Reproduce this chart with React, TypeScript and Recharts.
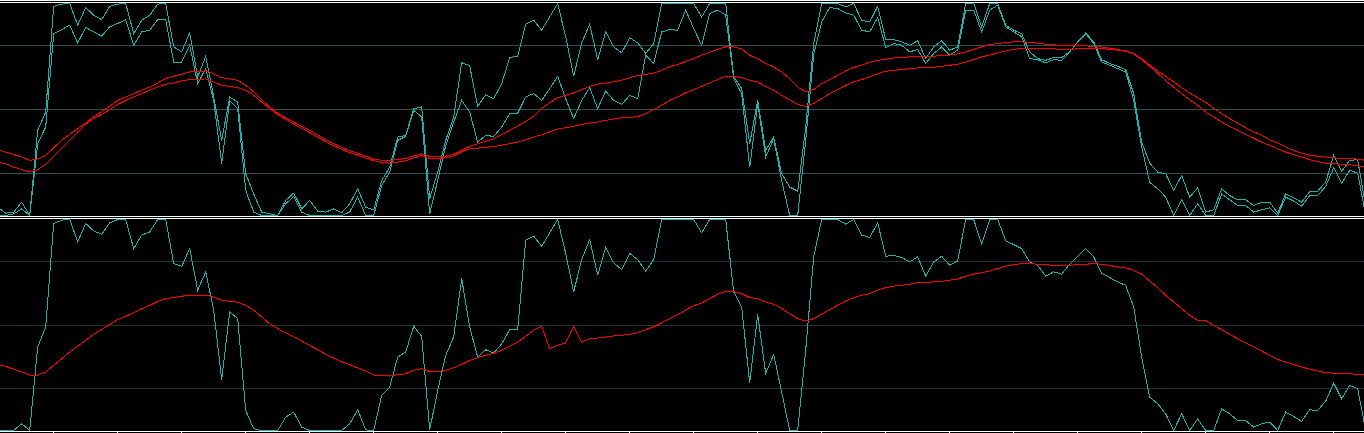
import React from "react";
import { Line, LineChart, ReferenceLine, XAxis, YAxis } from "recharts";

// bar index of the first value in every series below (one bar = 8px)
const firstBar = -1;
const tickBars = [6, 14, 22, 30, 38, 46, 54, 62, 70, 78, 86, 94, 102, 110, 118, 126, 134, 142, 150, 158, 166];
const levels = [20, 50, 80];

// top panel, the two cyan lines
const upperK = [
  3.9, 1.1, 1.6, 6.3, 0, 40.2, 48.8, 98.7, 99.7, 100,
  89.8, 98.1, 94.5, 92.4, 98.7, 99.7, 100, 85.8, 92.1, 94.5,
  99.7, 100, 79.5, 77.2, 86.1, 65.4, 75.1, 55.9, 35.4, 55.9,
  53.5, 19.7, 10.2, 1.6, 0.8, 0, 7.1, 10.6, 3.1, 7.1,
  2, 1.6, 3.1, 1.3, 5.5, 12.6, 3.9, 2.7, 16.5, 22.8,
  37, 37.8, 50.4, 51.2, 7.9, 20.5, 35.4, 46.5, 72.1, 70.6,
  51.5, 57, 55.1, 62.2, 74.5, 75.1, 90.2, 92.1, 87.4, 93.7,
  100, 84.3, 65.7, 81.4, 90.2, 73.5, 86.6, 79.5, 76.7, 83.9,
  81.4, 76.4, 81.1, 100, 100, 100, 100, 100, 93.7, 100,
  100, 100, 65.7, 59.8, 33.9, 54.3, 30.7, 37, 19.7, 13.4,
  11.5, 41.7, 81.1, 100, 100, 100, 98.4, 100, 92.1, 91.3,
  98.7, 83, 83, 81.9, 80.3, 82.4, 74, 79.5, 82.4, 78,
  79.5, 100, 100, 89, 100, 100, 89.8, 87.4, 85.8, 77.2,
  74, 73.2, 74.5, 74.5, 77.2, 81.9, 86.1, 81.9, 73.5, 71.7,
  70.4, 68.8, 57.5, 34.6, 24.7, 20.5, 19.7, 11.8, 18.9, 8.7,
  13.1, 1.6, 2.7, 12.6, 9.4, 7.4, 7.4, 4.7, 6.3, 6.3,
  1.1, 10.2, 8.3, 6.3, 11.3, 11.5, 15.7, 28.3, 20.9, 26,
  26.3, 3.9,
];

const lowerK = [
  0, 0, 0.8, 3.1, 0, 34, 41.7, 85.8, 87.7, 89.8,
  81.4, 88.7, 86.6, 84.6, 89, 90.6, 92.4, 80.3, 86.6, 87.4,
  92.4, 92.4, 72.4, 72.4, 80.3, 62.2, 69.3, 54.3, 24.4, 54.3,
  50.4, 11.8, 1.6, 0, 0, 0, 5.5, 9, 1.6, 0,
  0, 0, 0, 0, 1.6, 8.7, 0, 0, 14.2, 20.5,
  35.4, 37.3, 49.6, 46.5, 0.8, 16.5, 33, 44.1, 54.3, 48.8,
  34.6, 37.8, 37.3, 41.7, 48, 48.3, 55.9, 57.5, 54.3, 59.8,
  65.7, 55.1, 45.7, 54.3, 60.3, 50.4, 58.7, 54.3, 52.4, 56.7,
  55.1, 75.6, 71.7, 86.6, 87.7, 87.4, 96.9, 88.2, 80.3, 95.3,
  96.9, 94.5, 64.6, 57.5, 22.8, 52.8, 27.6, 36.2, 16.5, 0,
  0, 35.4, 76, 91.3, 98.1, 97.6, 95.6, 94.5, 87.4, 86.6,
  93.4, 79.2, 81.1, 80.3, 77.2, 78.3, 71.7, 76.4, 79.5, 75.6,
  78, 96.9, 96.9, 86.6, 96.9, 99.2, 89, 86.6, 84.3, 74,
  73.5, 72, 73.5, 73.2, 77.2, 81.9, 85.8, 81.1, 72.4, 70.9,
  69.3, 67.7, 54.3, 32.3, 15.7, 12.6, 8.7, 0, 7.4, 0,
  5.5, 0, 0, 10.2, 7.4, 4.7, 4.7, 1.6, 2.7, 3.6,
  0, 8.7, 6.8, 4.4, 9.4, 9.4, 13.7, 22.5, 15.3, 21.3,
  20, 0,
];

// top panel, the two red lines
const upperSignal = [
  31, 29.9, 28.8, 27.6, 26, 26.6, 28.3, 32, 35.4, 38.3,
  40.9, 43.6, 46.5, 49.1, 51.5, 54.3, 55.9, 57.5, 59.1, 60.6,
  62.5, 64.6, 65.7, 66.6, 67.7, 68, 68.2, 66.9, 65, 64.4,
  63.8, 61.4, 58.3, 54.6, 51.2, 48.3, 46.1, 44.1, 42, 40.2,
  38, 35.7, 33.9, 32.1, 30.6, 29.3, 28, 26.6, 26.1, 26,
  26.3, 26.9, 28.2, 29.1, 28, 27.7, 28, 28.8, 30.7, 32.6,
  33.9, 35, 36.2, 38.1, 40.2, 42.2, 44.4, 46.8, 50.5, 53.2,
  55.6, 56.7, 57.8, 59.4, 60.9, 61.9, 62.5, 63.1, 63.8, 65,
  66, 66.6, 67.1, 68.5, 70.1, 71.3, 72.6, 74, 75.6, 77,
  78.3, 79.5, 79.5, 78.6, 75.6, 74, 71.7, 70.1, 67.7, 64.6,
  60.6, 58.3, 59.4, 62.2, 64.1, 66.1, 68.2, 69.8, 70.9, 72.3,
  73.2, 73.7, 74.3, 74.6, 74.8, 74.8, 74.8, 75.1, 75.6, 75.7,
  76.2, 77.2, 78.3, 79.5, 80.6, 81.1, 81.6, 81.9, 81.9, 81.6,
  81.3, 80.8, 80.5, 80.2, 80, 80, 80, 79.8, 79.5, 78.9,
  78.3, 77.6, 76.4, 74, 70.9, 68.2, 65.7, 63, 60.3, 57.8,
  55.6, 53.4, 50.6, 48, 45.7, 43.6, 41.4, 39.5, 37.8, 35.7,
  34.2, 32.3, 30.7, 29.4, 28.5, 27.9, 27.6, 27.2, 26.9, 26.8,
  26.6, 26,
];

const lowerSignal = [
  25.2, 24.4, 22.8, 21.7, 20.5, 21.6, 24.1, 27.9, 31.8, 35.4,
  39.4, 43, 45.7, 47.7, 49.9, 52.4, 54.3, 55.9, 57.5, 59.1,
  60.6, 61.9, 62.5, 63.5, 64.1, 64.3, 64.4, 63, 61.4, 60.9,
  60.3, 59.1, 56.7, 53.5, 50.4, 47.6, 45.4, 43.1, 41.1, 39.1,
  36.9, 34.8, 32.9, 31.2, 29.6, 28.5, 27.2, 25.8, 25, 24.7,
  25.2, 25.8, 27.2, 28.3, 26.9, 26.8, 27.2, 27.9, 29.9, 31.5,
  31.8, 32.1, 32.6, 33.1, 33.9, 34.6, 35.7, 37, 38.1, 39.4,
  40.8, 41.4, 42, 43, 43.6, 44.1, 44.9, 45.5, 46.1, 46.3,
  46.6, 48, 49.9, 52, 54.3, 55.9, 57.8, 59.4, 60.9, 62.5,
  64.1, 65.7, 65.7, 65, 63.8, 63, 60.9, 59.1, 56.7, 54.6,
  52.4, 51.5, 52.8, 55.1, 57.5, 59.4, 61.4, 63, 64.1, 65.4,
  66.9, 68, 68.5, 68.8, 69.3, 69.6, 69.8, 69.9, 70.4, 70.9,
  71.3, 72.4, 73.5, 74.8, 75.7, 76.7, 77.6, 78.4, 78.7, 78.7,
  78.7, 78.7, 78.6, 78.4, 78.4, 78.6, 78.7, 78.7, 78.7, 78.4,
  78, 77.5, 76.2, 73.5, 70.4, 67.2, 63.5, 60.6, 57.5, 54.6,
  52, 48.8, 46.5, 44.1, 42, 40.2, 38.3, 36.5, 34.6, 33.1,
  31.5, 29.9, 28.7, 27.6, 26.3, 25.4, 24.7, 24.4, 24.1, 23.9,
  23.6, 22.8,
];

// bottom panel
const osc = [
  0, 0, 0, 3.2, 0, 39.6, 49.1, 98.1, 99.7, 100,
  89.4, 98.1, 94.6, 93, 98.4, 100, 100, 86.2, 92.6, 94.1,
  100, 100, 79.1, 77.8, 86.2, 66.5, 75.2, 57, 24.1, 56.2,
  53, 9.5, 0.8, 0, 0, 0, 6.3, 8.7, 1.6, 0,
  0, 0, 0, 0, 3.2, 9.8, 0.3, 0, 16.6, 20.6,
  34.8, 37.2, 49.4, 44.6, 0.3, 19, 35.6, 44.3, 72, 49,
  34.8, 38.3, 36.7, 41.1, 47.8, 47.8, 90.2, 92.1, 87.3, 93.7,
  100, 83.9, 65.7, 81, 90.5, 73.6, 86.7, 79.4, 76.3, 83.9,
  81, 75.5, 81, 100, 100, 100, 100, 100, 93.7, 100,
  100, 100, 65.7, 58.5, 22.5, 55, 27, 36, 18.2, 0,
  0, 38, 82.3, 100, 100, 100, 97.8, 100, 92.6, 91.5,
  98.4, 82.6, 83, 82, 79.9, 82.3, 73.1, 79.9, 82.6, 78.3,
  80.4, 100, 100, 88.3, 100, 100, 89.9, 88.1, 86.2, 79.9,
  78.3, 73.1, 75.2, 74.1, 78.8, 82.6, 86.2, 82.3, 74.4, 72.5,
  70.4, 68.8, 58.5, 34.8, 15.8, 12.7, 7.9, 0, 7.9, 0,
  5.5, 0, 0, 10.3, 7.9, 4.7, 4.7, 1.6, 3.2, 4,
  0, 8.7, 6.6, 4.4, 9.8, 9.5, 13.9, 22.5, 15, 21.4,
  19.8, 0,
];

const signal = [
  31.3, 30.4, 29.1, 27.8, 26.3, 26.3, 27.7, 30.9, 34, 37.2,
  39.9, 42.7, 45.6, 47.8, 50.2, 52.5, 54.1, 55.9, 57.6, 59.3,
  61.2, 62.5, 63, 63.6, 64.2, 64.2, 64.2, 63.3, 61.7, 61.2,
  60.8, 59.3, 57, 53.8, 50.6, 48.3, 46.2, 44.3, 42.4, 40.3,
  38.3, 36.1, 34.3, 32.6, 31.2, 29.7, 28.2, 26.3, 26.1, 25.8,
  26.4, 26.9, 28.5, 29.3, 28, 28, 28.5, 29.7, 31.3, 33.2,
  34.5, 35.6, 36.6, 38, 39.9, 41.9, 44.6, 47.5, 49.4, 38.8,
  40.3, 41.5, 49.4, 41.9, 43.5, 43.8, 44.3, 44.8, 45.1, 45.6,
  46.4, 47.8, 49.1, 51, 53, 54.9, 57, 59.2, 60.4, 62.5,
  64.6, 66, 65.8, 64.9, 63, 62.5, 60.9, 59.8, 57.8, 55.4,
  53, 51.9, 53, 55.1, 57.3, 59.3, 61.4, 63, 64.1, 64.9,
  66.5, 67.7, 68.4, 68.8, 69.3, 70.1, 70.3, 70.4, 70.7, 71.2,
  71.8, 73.1, 74.1, 74.8, 75.6, 76.7, 77.8, 78.6, 79.1, 79.1,
  78.8, 78.6, 78.3, 78.3, 78.3, 78.6, 78.8, 79.1, 78.8, 78.2,
  77.5, 77.1, 75.9, 74.1, 70.9, 67.7, 64.1, 60.9, 57.8, 54.6,
  52.2, 52.1, 49.8, 47.8, 45.6, 43.5, 41.5, 39.6, 37.7, 35.6,
  33.7, 32.4, 31.3, 30.1, 29.1, 28.2, 27.4, 27.2, 26.9, 26.9,
  26.6, 26.4,
];

const rows = upperK.map((value, i) => ({
  bar: firstBar + i,
  upperK: value,
  lowerK: lowerK[i],
  upperSignal: upperSignal[i],
  lowerSignal: lowerSignal[i],
  osc: osc[i],
  signal: signal[i],
}));

const CYAN = "#20B2AA";
const RED = "#FF0000";
const xDomain: [number, number] = [-0.7125, 169.7875];

const whiteRows = [0, 2, 216, 218];

const noLabel = () => <g />;

export default function App() {
  return (
    <div
      style={{
        position: "absolute",
        left: 0,
        top: 0,
        width: 1364,
        height: 433,
        background: "#000",
        overflow: "hidden",
      }}
    >
      <style>{`.osc svg path, .osc svg line { shape-rendering: crispEdges; }`}</style>

      <div className="osc" style={{ position: "absolute", left: 0, top: 0 }}>
        <LineChart width={1364} height={218} data={rows} margin={{ top: 2, right: 0, bottom: 1, left: 0 }}>
          <XAxis dataKey="bar" type="number" domain={xDomain} allowDataOverflow hide />
          <YAxis type="number" domain={[-0.708, 100.708]} hide />
          {levels.map((l) => (
            <ReferenceLine key={l} y={l} stroke="#2F4F4F" strokeWidth={1} />
          ))}
          <Line type="linear" dataKey="upperK" stroke={CYAN} strokeWidth={1} dot={false} isAnimationActive={false} />
          <Line type="linear" dataKey="lowerK" stroke={CYAN} strokeWidth={1} dot={false} isAnimationActive={false} />
          <Line type="linear" dataKey="upperSignal" stroke={RED} strokeWidth={1} dot={false} isAnimationActive={false} />
          <Line type="linear" dataKey="lowerSignal" stroke={RED} strokeWidth={1} dot={false} isAnimationActive={false} />
        </LineChart>
      </div>

      <div className="osc" style={{ position: "absolute", left: 0, top: 218 }}>
        <LineChart width={1364} height={215} data={rows} margin={{ top: 0, right: 0, bottom: 0, left: 0 }}>
          <XAxis
            dataKey="bar"
            type="number"
            domain={xDomain}
            allowDataOverflow
            ticks={tickBars}
            height={2}
            tickSize={2}
            tick={noLabel}
            axisLine={{ stroke: "#FFFFFF" }}
            tickLine={{ stroke: "#FFFFFF" }}
          />
          <YAxis type="number" domain={[-0.237, 100.711]} hide />
          {levels.map((l) => (
            <ReferenceLine key={l} y={l} stroke="#1E3333" strokeWidth={1} />
          ))}
          <Line type="linear" dataKey="osc" stroke={CYAN} strokeWidth={1} dot={false} isAnimationActive={false} />
          <Line type="linear" dataKey="signal" stroke={RED} strokeWidth={1} dot={false} isAnimationActive={false} />
        </LineChart>
      </div>

      {whiteRows.map((y) => (
        <div key={y} style={{ position: "absolute", left: 0, top: y, width: 1364, height: 1, background: "#FFFFFF" }} />
      ))}
    </div>
  );
}
